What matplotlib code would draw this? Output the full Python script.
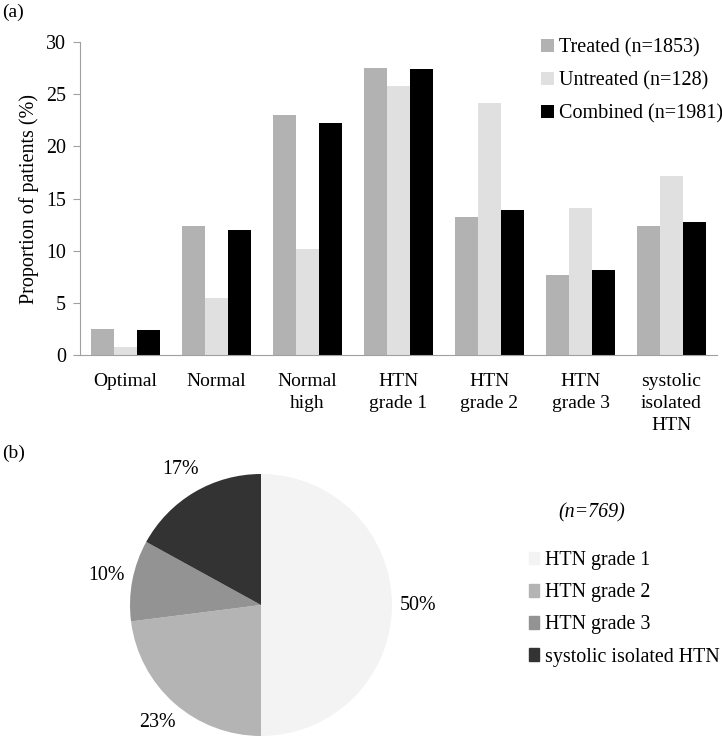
import numpy as np
import matplotlib.pyplot as plt
from matplotlib.patches import Patch

plt.rcParams['font.family'] = ['Liberation Serif', 'DejaVu Serif']

# data for panel (a)
categories = ['Optimal', 'Normal', 'Normal\nhigh', 'HTN\ngrade 1', 'HTN\ngrade 2',
              'HTN\ngrade 3', 'systolic\nisolated\nHTN']
treated = [2.5, 12.4, 23.0, 27.5, 13.2, 7.7, 12.4]
untreated = [0.8, 5.5, 10.2, 25.8, 24.2, 14.1, 17.2]
combined = [2.4, 12.0, 22.2, 27.4, 13.9, 8.1, 12.7]
series_names = ['Treated (n=1853)', 'Untreated (n=128)', 'Combined (n=1981)']
series_colors = ['#b2b2b2', '#e0e0e0', '#000000']

# data for panel (b)
pie_labels = ['HTN grade 1', 'HTN grade 2', 'HTN grade 3', 'systolic isolated HTN']
pie_values = [50, 23, 10, 17]
pie_colors = ['#f3f3f3', '#b4b4b4', '#939393', '#333333']

W, H = 722, 736
fig = plt.figure(figsize=(W / 100, H / 100), dpi=100)

def px_axes(x0, y0, x1, y1):
    # pixel box (top-left origin) -> figure axes
    return fig.add_axes([x0 / W, 1 - y1 / H, (x1 - x0) / W, (y1 - y0) / H])

# ---- bar chart
ax = px_axes(80, 42, 717, 355)
x = np.arange(len(categories))
w = 0.255
for i, (vals, name, col) in enumerate(zip([treated, untreated, combined], series_names, series_colors)):
    ax.bar(x + (i - 1) * w, vals, w, color=col, label=name)
ax.set_xlim(-0.5, len(categories) - 0.5)
ax.set_ylim(0, 30)
ax.set_yticks(range(0, 31, 5))
ax.set_xticks(x)
ax.set_xticklabels(categories, fontsize=14, linespacing=1.38)
ax.tick_params(axis='x', length=0, pad=13)
ax.tick_params(axis='y', labelsize=14.4, color='#a0a0a0', length=5, pad=5)
for s in ['top', 'right']:
    ax.spines[s].set_visible(False)
for s in ['left', 'bottom']:
    ax.spines[s].set_color('#a0a0a0')
ax.set_ylabel('Proportion of patients (%)', fontsize=14.5, labelpad=5)
ax.legend(loc='upper right', bbox_to_anchor=(1.022, 1.038), frameon=False, fontsize=14.5,
          handlelength=0.65, handleheight=0.65, handletextpad=0.25, labelspacing=0.68,
          borderaxespad=0)

fig.text(2 / W, 1 - 12 / H, '(a)', fontsize=14, va='center', ha='left')
fig.text(2 / W, 1 - 453 / H, '(b)', fontsize=14, va='center', ha='left')

# ---- pie chart
cx, cy, r = 261, 605, 131
k = 1.4
pax = px_axes(cx - r * k, cy - r * k, cx + r * k, cy + r * k)
pax.pie(pie_values, colors=pie_colors, startangle=90, counterclock=False,
        autopct='%.0f%%', pctdistance=1.2, textprops={'fontsize': 14.4})
pax.set_aspect('auto')
pax.set_xlim(-k, k)
pax.set_ylim(-k, k)
pax.axis('off')

fig.text(592 / W, 1 - 513 / H, '(n=769)', fontsize=14.4, style='italic', ha='center', va='center')
handles = [Patch(color=c) for c in pie_colors]
fig.legend(handles, pie_labels, loc='upper left', bbox_to_anchor=(529 / W, 1 - 551 / H),
           frameon=False, fontsize=14.4, handlelength=0.5, handleheight=0.6,
           handletextpad=0.3, labelspacing=0.66, borderaxespad=0, borderpad=0)

fig.savefig('out.png', dpi=100)
